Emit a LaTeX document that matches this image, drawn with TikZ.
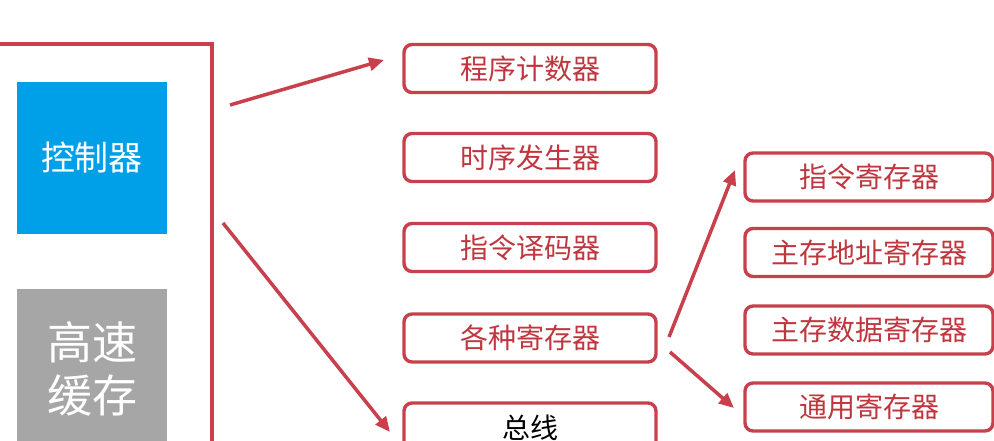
\documentclass[tikz,border=0pt]{standalone}
\usepackage{fontspec}
\newfontfamily\cjk{Noto Sans CJK SC}
\usetikzlibrary{arrows.meta}
\definecolor{redline}{HTML}{C8404C}
\definecolor{redtext}{HTML}{C0363F}
\definecolor{ctrlblue}{HTML}{00A0E9}
\definecolor{cachegray}{HTML}{A6A6A6}
\tikzset{
  regbox/.style={draw=redline, line width=3.4pt, rounded corners=8pt, fill=white,
    minimum height=48pt, inner sep=0pt, text=redtext,
    font=\cjk\fontsize{28}{28}\selectfont},
  arr/.style={draw=redline, line width=3.5pt, -{Triangle[length=15pt,width=13pt]}},
}
\begin{document}
\begin{tikzpicture}[x=1pt,y=-1pt]
\useasboundingbox (0,0) rectangle (994,441);
\clip (0,0) rectangle (994,441);
\fill[white] (0,0) rectangle (994,441);
% CPU outline
\draw[redline, line width=3.5pt] (-20,44) -- (212,44) -- (212,470);
\node[fill=ctrlblue, minimum width=150pt, minimum height=152pt, inner sep=0pt,
  text=white, font=\cjk\fontsize{34}{34}\selectfont] (ctrl) at (92,158) {控制器};
\node[fill=cachegray, minimum width=150pt, minimum height=160pt, inner sep=0pt,
  text=white, align=center, font=\cjk\fontsize{45}{53}\selectfont] (cache) at (92,369) {高速\\缓存};
% left column
\node[regbox, minimum width=252pt] (pc) at (530,68.5) {程序计数器};
\node[regbox, minimum width=252pt] (tg) at (530,157.5) {时序发生器};
\node[regbox, minimum width=252pt] (dec) at (530,247.5) {指令译码器};
\node[regbox, minimum width=252pt] (regs) at (530,338) {各种寄存器};
\node[regbox, minimum width=252pt, minimum height=50pt, text=black] (bus) at (530,428) {总线};
% right column
\node[regbox, minimum width=248pt] (ir) at (869,177) {指令寄存器};
\node[regbox, minimum width=248pt] (mar) at (869,252.5) {主存地址寄存器};
\node[regbox, minimum width=248pt] (mdr) at (869,330) {主存数据寄存器};
\node[regbox, minimum width=248pt] (gr) at (869,407) {通用寄存器};
% arrows
\coordinate (s1) at (230,105);
\coordinate (e1) at (384,60);
\coordinate (s2) at (223,223);
\coordinate (e2) at (390,432);
\coordinate (s3) at (669,337);
\coordinate (e3) at (735,170);
\coordinate (s4) at (670,352);
\coordinate (e4) at (734,408);
\draw[arr] (s1) -- (e1);
\draw[arr] (s2) -- (e2);
\draw[arr] (s3) -- (e3);
\draw[arr] (s4) -- (e4);
\end{tikzpicture}
\end{document}
